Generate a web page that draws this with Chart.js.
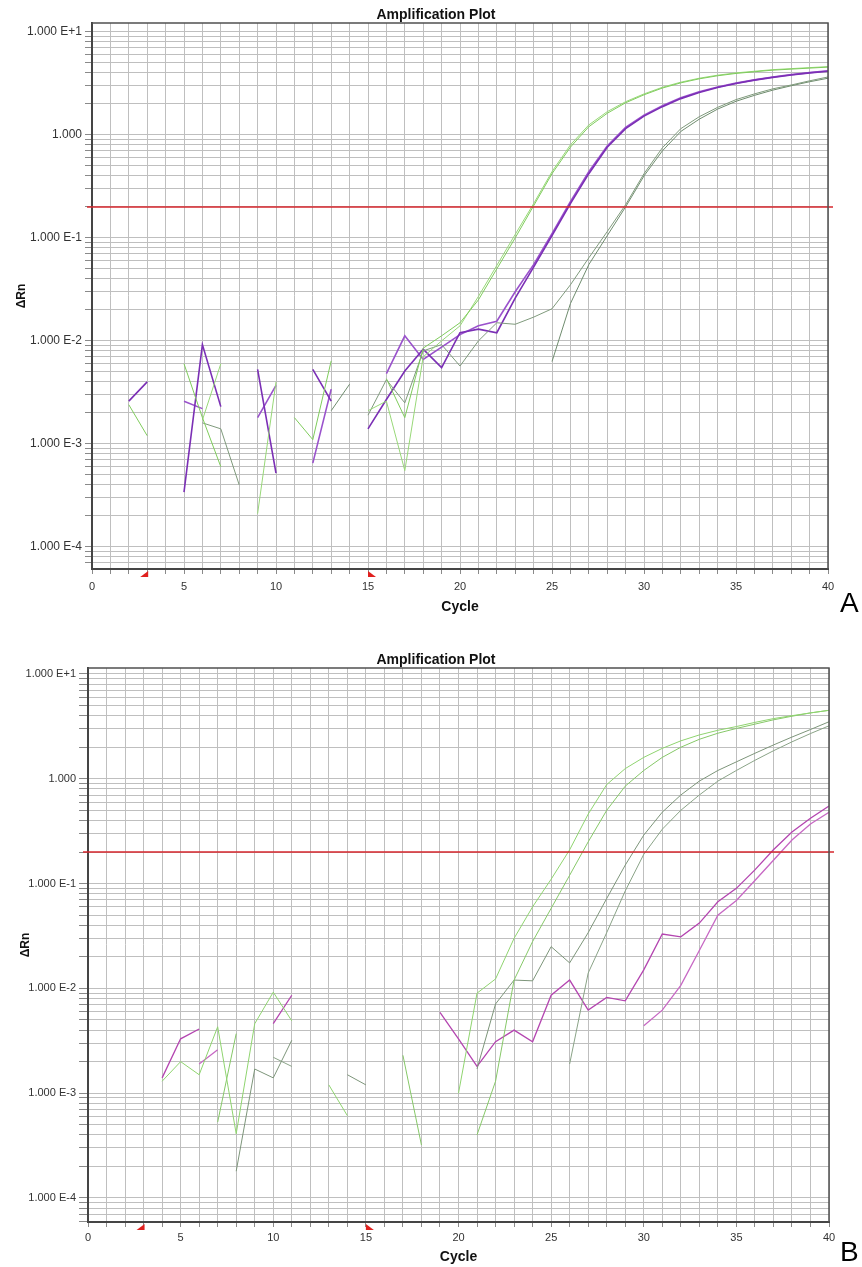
<!DOCTYPE html>
<html>
<head>
<meta charset="utf-8">
<title>Amplification Plot</title>
<script src="https://cdn.jsdelivr.net/npm/chart.js@4.4.1/dist/chart.umd.min.js"></script>
<style>
  body { margin: 0; background: #fff; width: 862px; height: 1267px; position: relative; overflow: hidden;
         font-family: "Liberation Sans", Arial, sans-serif; }
  .wrap { position: absolute; left: 0; width: 862px; }
  #wrapA { top: 0; height: 620px; }
  #wrapB { top: 630px; height: 637px; }
  .panel-letter { position: absolute; left: 840px; font-size: 28px; line-height: 28px; color: #000; }
</style>
</head>
<body>
<div class="wrap" id="wrapA"><canvas id="plotA" width="862" height="620"></canvas></div>
<div class="wrap" id="wrapB"><canvas id="plotB" width="862" height="637"></canvas></div>
<div class="panel-letter" style="top:589px">A</div>
<div class="panel-letter" style="top:1238px">B</div>

<script>
// ---- data ----
const _ = null; // no signal (value <= 0, not shown on a log axis)

const cycles = [1, 2, 3, 4, 5, 6, 7, 8, 9, 10, 11, 12, 13, 14, 15, 16, 17, 18, 19, 20,
                21, 22, 23, 24, 25, 26, 27, 28, 29, 30, 31, 32, 33, 34, 35, 36, 37, 38, 39, 40];

const threshold = 0.2;          // red threshold line
const baselineRange = [3, 15];  // red baseline markers under the axis

const yMajorTicks = [1e-4, 1e-3, 1e-2, 1e-1, 1, 10];
const yTickLabels = ['1.000 E-4', '1.000 E-3', '1.000 E-2', '1.000 E-1', '1.000', '1.000 E+1'];
const xLabelStep = 5;

// panel A
const aGreen1 = [_, 0.0024, 0.0012, _, 0.0060, 0.0018, 0.0006, _, _, _,
                 0.0018, 0.0011, 0.0064, _, _, 0.0043, 0.0018, 0.0085, 0.0112, 0.0150,
                 0.025, 0.050, 0.100, 0.205, 0.42, 0.76, 1.20, 1.62, 2.05, 2.45,
                 2.85, 3.20, 3.50, 3.75, 3.95, 4.10, 4.25, 4.35, 4.45, 4.55];
const aGreen2 = [_, _, _, _, _, 0.0017, 0.0060, _, 0.00021, 0.0040,
                 _, _, _, _, 0.0021, 0.0026, 0.00055, 0.0070, 0.0100, 0.0140,
                 0.027, 0.054, 0.108, 0.215, 0.44, 0.80, 1.25, 1.68, 2.10, 2.50,
                 2.90, 3.25, 3.55, 3.80, 4.00, 4.15, 4.30, 4.40, 4.50, 4.60];
const aGray1 = [_, _, _, _, _, 0.0016, 0.0014, 0.0004, _, _,
                _, _, _, _, 0.0019, 0.0042, 0.0025, 0.0080, 0.0092, 0.0057,
                0.0100, 0.0150, 0.0145, 0.0170, 0.0205, 0.035, 0.064, 0.115, 0.21, 0.42,
                0.75, 1.15, 1.50, 1.85, 2.20, 2.50, 2.80, 3.05, 3.35, 3.65];
const aGray2 = [_, _, _, _, _, _, _, _, _, _,
                _, _, 0.0021, 0.0038, _, _, _, _, _, _,
                _, _, _, _, 0.0063, 0.023, 0.055, 0.105, 0.20, 0.40,
                0.70, 1.08, 1.42, 1.78, 2.12, 2.42, 2.72, 3.00, 3.28, 3.55];
const aPurple1 = [_, 0.0026, 0.0040, _, 0.00034, 0.0092, 0.0023, _, 0.0053, 0.00052,
                  _, 0.0053, 0.0026, _, 0.0014, 0.0027, 0.0051, 0.0083, 0.0055, 0.0120,
                  0.0130, 0.0120, 0.026, 0.052, 0.105, 0.215, 0.42, 0.76, 1.15, 1.52,
                  1.88, 2.25, 2.58, 2.88, 3.15, 3.40, 3.62, 3.82, 4.00, 4.15];
const aPurple2 = [_, _, _, _, 0.0026, 0.0022, _, _, 0.0018, 0.0037,
                  _, 0.00065, 0.0034, _, _, 0.0048, 0.0112, 0.0066, 0.0087, 0.0115,
                  0.0140, 0.0155, 0.030, 0.055, 0.11, 0.225, 0.44, 0.78, 1.18, 1.55,
                  1.92, 2.30, 2.62, 2.92, 3.18, 3.42, 3.65, 3.85, 4.02, 4.20];

// panel B
const bGreen1 = [_, _, _, 0.0013, 0.0020, 0.0015, 0.0043, 0.00041, 0.0046, 0.0092,
                 0.0049, _, 0.0012, 0.00061, _, _, _, _, _, 0.0010,
                 0.0090, 0.0123, 0.030, 0.060, 0.11, 0.21, 0.46, 0.88, 1.25, 1.60,
                 1.95, 2.30, 2.62, 2.90, 3.15, 3.45, 3.75, 4.00, 4.25, 4.50];
const bGreen2 = [_, _, _, _, _, _, 0.00053, 0.0037, _, _,
                 _, _, _, _, _, _, 0.0023, 0.00032, _, _,
                 0.00040, 0.0013, 0.012, 0.028, 0.058, 0.12, 0.25, 0.50, 0.85, 1.20,
                 1.60, 2.00, 2.38, 2.72, 3.02, 3.32, 3.65, 3.95, 4.25, 4.50];
const bGray1 = [_, _, _, _, _, _, _, 0.00018, 0.0017, 0.0014,
                0.0032, _, _, 0.0015, 0.0012, _, _, _, _, _,
                0.0017, 0.0071, 0.012, 0.0118, 0.025, 0.0175, 0.034, 0.072, 0.15, 0.29,
                0.48, 0.70, 0.95, 1.20, 1.45, 1.75, 2.10, 2.50, 2.95, 3.50];
const bGray2 = [_, _, _, _, _, _, _, _, _, 0.0022,
                0.0018, _, _, _, _, _, _, _, _, _,
                _, _, _, _, _, 0.0019, 0.014, 0.034, 0.085, 0.19,
                0.33, 0.50, 0.70, 0.95, 1.20, 1.50, 1.85, 2.25, 2.70, 3.20];
const bMagenta1 = [_, _, _, 0.0014, 0.0033, 0.0041, _, _, _, 0.0046,
                   0.0086, _, _, _, _, _, _, _, 0.0059, 0.0033,
                   0.0018, 0.0031, 0.0040, 0.0031, 0.0086, 0.0120, 0.0062, 0.0082, 0.0076, 0.0150,
                   0.033, 0.031, 0.042, 0.067, 0.090, 0.135, 0.21, 0.31, 0.42, 0.55];
const bMagenta2 = [_, _, _, _, _, 0.0019, 0.0026, _, _, _,
                   _, _, _, _, _, _, _, _, _, _,
                   _, _, _, _, _, _, _, _, _, 0.0044,
                   0.0062, 0.0107, 0.023, 0.050, 0.069, 0.107, 0.167, 0.26, 0.37, 0.48];

// ---- helpers ----
const FONT = '"Liberation Sans", Arial, sans-serif';

function toPoints(values) {
  return cycles.map((c, i) => ({ x: c, y: values[i] }));
}

function line(values, color, width) {
  return {
    data: toPoints(values),
    borderColor: color,
    borderWidth: width,
    pointRadius: 0,
    tension: 0,
    spanGaps: false
  };
}

// grid values for the log axis: every 1..9 x decade inside the range
function logGridValues(min, max) {
  const vals = [];
  [yMajorTicks[0] / 10].concat(yMajorTicks).forEach(d => {
    for (let m = 1; m <= 9; m++) {
      const v = m === 1 ? d : m * d;
      if (v >= min && v <= max) vals.push(v);
    }
  });
  return vals.sort((a, b) => a - b);
}

// threshold line, baseline markers, plot frame and heading
const ampDecor = {
  id: 'ampDecor',
  afterDatasetsDraw(chart, args, opts) {
    const { ctx, chartArea: a, scales: { y } } = chart;
    const ty = y.getPixelForValue(opts.threshold);
    ctx.save();
    ctx.strokeStyle = '#d6262c';
    ctx.lineWidth = 1.5;
    ctx.beginPath();
    ctx.moveTo(a.left - 5, ty);
    ctx.lineTo(a.right + 5, ty);
    ctx.stroke();
    ctx.restore();
  },
  afterDraw(chart, args, opts) {
    const { ctx, chartArea: a, scales: { x } } = chart;
    ctx.save();
    // top + right edges of the frame
    ctx.strokeStyle = '#505050';
    ctx.lineWidth = 1.5;
    ctx.beginPath();
    ctx.moveTo(a.left, a.top);
    ctx.lineTo(a.right, a.top);
    ctx.lineTo(a.right, a.bottom);
    ctx.stroke();

    // baseline start / end markers
    const x0 = x.getPixelForValue(opts.baseline[0]);
    const x1 = x.getPixelForValue(opts.baseline[1]);
    const yb = a.bottom + 2;
    ctx.fillStyle = '#e0201e';
    ctx.beginPath();
    ctx.moveTo(x0 + 1, yb); ctx.lineTo(x0 + 1, yb + 6); ctx.lineTo(x0 - 7, yb + 6);
    ctx.closePath(); ctx.fill();
    ctx.beginPath();
    ctx.moveTo(x1, yb); ctx.lineTo(x1, yb + 6); ctx.lineTo(x1 + 8, yb + 6);
    ctx.closePath(); ctx.fill();

    // heading
    ctx.fillStyle = '#111';
    ctx.font = 'bold 14px ' + FONT;
    ctx.textAlign = 'center';
    ctx.textBaseline = 'middle';
    ctx.fillText(opts.title, chart.width / 2 + 5, a.top - 8);
    ctx.restore();
  }
};

function makePlot(canvasId, datasets, g) {
  return new Chart(document.getElementById(canvasId), {
    type: 'line',
    data: { datasets: datasets },
    plugins: [ampDecor],
    options: {
      responsive: false,
      animation: false,
      events: [],
      layout: { padding: { left: 0, top: g.top, right: g.right, bottom: 0 } },
      plugins: {
        legend: { display: false },
        tooltip: { enabled: false },
        title: { display: false },
        ampDecor: { title: 'Amplification Plot', threshold: threshold, baseline: baselineRange }
      },
      scales: {
        x: {
          type: 'linear',
          min: 0,
          max: 40,
          afterFit: s => { s.height = g.xHeight; },
          ticks: {
            stepSize: 1,
            autoSkip: false,
            maxRotation: 0,
            padding: g.xPad,
            color: '#333',
            font: { family: FONT, size: 11 },
            callback: v => (v % xLabelStep === 0 ? String(v) : '')
          },
          grid: { color: '#bfbfbf', lineWidth: 1, tickLength: 5, tickColor: '#8a8a8a' },
          border: { display: true, color: '#454545', width: 2 },
          title: {
            display: true,
            text: 'Cycle',
            color: '#111',
            font: { family: FONT, size: 14, weight: 'bold' },
            padding: { top: 0, bottom: g.xTitlePad }
          }
        },
        y: {
          type: 'logarithmic',
          min: g.yMin,
          max: g.yMax,
          afterFit: s => { s.width = g.yWidth; },
          afterBuildTicks: s => { s.ticks = logGridValues(g.yMin, g.yMax).map(v => ({ value: v })); },
          ticks: {
            autoSkip: false,
            padding: 3,
            color: '#333',
            font: { family: FONT, size: g.yFont },
            callback: v => {
              const k = yMajorTicks.indexOf(v);
              return k >= 0 ? yTickLabels[k] : '';
            }
          },
          grid: { color: '#bfbfbf', lineWidth: 1, tickLength: g.yTick, tickColor: '#8a8a8a' },
          border: { display: true, color: '#454545', width: 2 },
          title: {
            display: true,
            text: '\u0394Rn',
            color: '#111',
            font: { family: FONT, size: 12, weight: 'bold' },
            padding: { top: g.yTitlePad, bottom: 0 }
          }
        }
      }
    }
  });
}

makePlot('plotA', [
  line(aGreen1, '#7fcc5c', 1),
  line(aGreen2, '#98d878', 1),
  line(aGray1, '#7f9a7c', 1),
  line(aGray2, '#6f8c6e', 1),
  line(aPurple1, '#7b2fb5', 1.6),
  line(aPurple2, '#9a52cc', 1.6)
], { top: 23, right: 34, yWidth: 92, xHeight: 51, yMin: 6.1e-5, yMax: 12.2,
     xPad: 6, yTick: 7, yFont: 12, xTitlePad: 4.6, yTitlePad: 14 });

makePlot('plotB', [
  line(bGreen1, '#8fd46f', 1),
  line(bGreen2, '#86c868', 1),
  line(bGray1, '#7d957a', 1),
  line(bGray2, '#8aa387', 1),
  line(bMagenta1, '#b445b0', 1.3),
  line(bMagenta2, '#c768c4', 1.3)
], { top: 38, right: 33, yWidth: 88, xHeight: 45, yMin: 5.9e-5, yMax: 11.4,
     xPad: 4, yTick: 9, yFont: 11, xTitlePad: 1.6, yTitlePad: 18 });
</script>
</body>
</html>
